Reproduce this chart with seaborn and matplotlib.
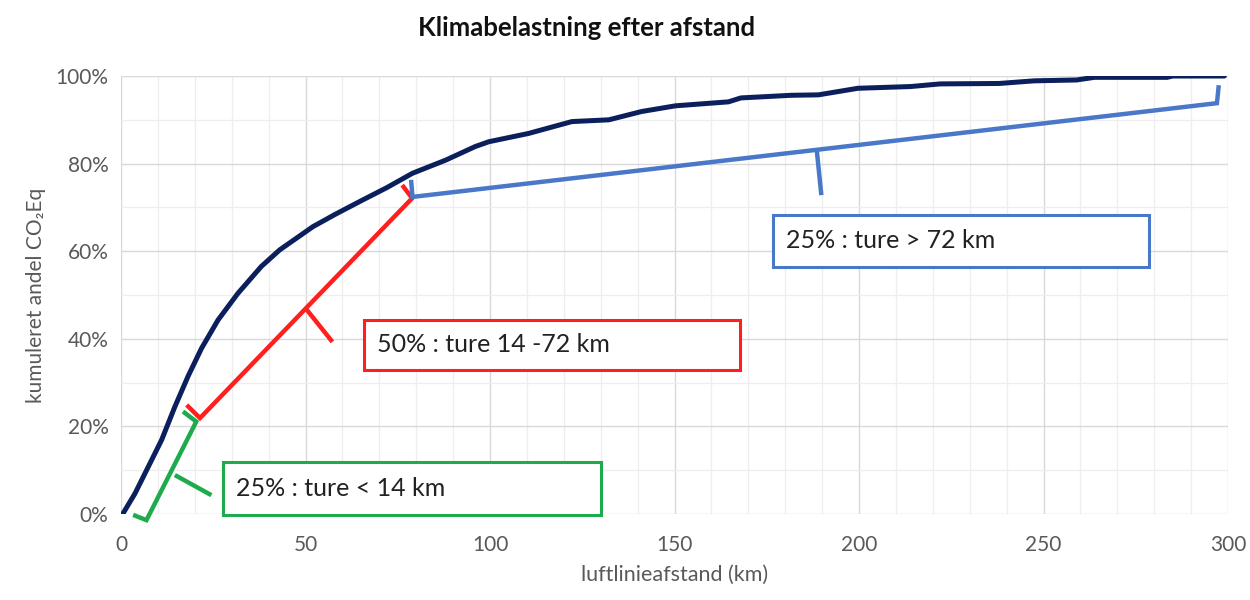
import numpy as np
import pandas as pd
import matplotlib
matplotlib.use("Agg")
import matplotlib.pyplot as plt
from matplotlib.patches import Rectangle
from matplotlib.ticker import MultipleLocator, PercentFormatter
import seaborn as sns

# cumulative share of CO2Eq against straight-line distance
km = [0.6, 3.8, 7.4, 11.0, 14.6, 18.2, 21.8, 26.3, 31.7, 38, 43, 52, 58, 65.5,
      72, 79, 88, 96, 99.7, 110.5, 122.2, 132.2, 141.1, 150.3, 164.6, 168,
      181.6, 189, 199.7, 214, 222, 238, 247.5, 259, 263.8, 283.5, 285, 299]
share = [0.002, 0.047, 0.108, 0.169, 0.245, 0.315, 0.378, 0.443, 0.504, 0.565,
         0.603, 0.656, 0.684, 0.717, 0.745, 0.778, 0.808, 0.839, 0.85, 0.869,
         0.896, 0.90, 0.919, 0.932, 0.941, 0.95, 0.956, 0.957, 0.972, 0.976,
         0.982, 0.983, 0.989, 0.991, 0.997, 0.997, 1.0, 1.0]

# bracket annotations: (x list, y list) for the bracket, then the small tick
green_bracket = ([3.3, 6.9, 20.4, 16.8], [-0.002, -0.014, 0.211, 0.234])
green_tick = ([14.6, 24.5], [0.089, 0.043])
red_bracket = ([17.8, 21.4, 78.9, 76.2], [0.249, 0.219, 0.721, 0.751])
red_tick = ([50, 57.3], [0.47, 0.393])
blue_bracket = ([78.6, 79.0, 297, 297.5], [0.763, 0.724, 0.938, 0.979])
blue_tick = ([188.5, 189.8], [0.835, 0.728])

# text boxes: (x0, x1, y0, y1)
green_box = (27.6, 130.2, -0.002, 0.119)
red_box = (65.9, 167.8, 0.329, 0.443)
blue_box = (176.8, 278.6, 0.565, 0.683)
green_text = "25% : ture < 14 km"
red_text = "50% : ture 14 -72 km"
blue_text = "25% : ture > 72 km"

GREEN = "#1eab4e"
RED = "#ff1f1f"
BLUE = "#4a78c8"
NAVY = "#0b1f5c"
GRAY = "#595959"

sns.set_theme(style="white")
plt.rcParams["font.family"] = ["Lato", "DejaVu Sans"]

fig = plt.figure(figsize=(12.5, 6), dpi=100)
ax = fig.add_axes([0.0968, 0.1433, 0.8856, 0.73])

df = pd.DataFrame({"km": km, "share": share})
sns.lineplot(data=df, x="km", y="share", ax=ax, color=NAVY, linewidth=3.6,
             zorder=5)

ax.set_xlim(0, 300)
ax.set_ylim(0, 1)
ax.xaxis.set_major_locator(MultipleLocator(50))
ax.xaxis.set_minor_locator(MultipleLocator(10))
ax.yaxis.set_major_locator(MultipleLocator(0.2))
ax.yaxis.set_minor_locator(MultipleLocator(0.1))
ax.yaxis.set_major_formatter(PercentFormatter(1.0, decimals=0))
ax.grid(which="major", color="#d9d9d9", linewidth=1.0)
ax.grid(which="minor", color="#eeeeee", linewidth=0.9)
ax.set_axisbelow(True)
for s in ax.spines.values():
    s.set_visible(False)
ax.tick_params(which="both", length=0)
ax.tick_params(axis="x", pad=15, labelsize=15, labelcolor=GRAY)
ax.tick_params(axis="y", pad=9, labelsize=15, labelcolor=GRAY)

ax.set_xlabel("luftlinieafstand (km)", fontsize=15.5, color=GRAY, labelpad=7)
ax.set_ylabel("kumuleret andel CO₂Eq", fontsize=15, color=GRAY, labelpad=7)

fig.text(587 / 1250, 1 - 28 / 600, "Klimabelastning efter afstand",
         ha="center", va="center", fontsize=18.5, fontweight="bold", color="#111111")

for (bx, by), (tx, ty), col in [
    (green_bracket, green_tick, GREEN),
    (red_bracket, red_tick, RED),
    (blue_bracket, blue_tick, BLUE),
]:
    ax.plot(bx, by, color=col, linewidth=3.2, clip_on=False, zorder=6,
            solid_joinstyle="miter", solid_capstyle="butt")
    ax.plot(tx, ty, color=col, linewidth=3.2, clip_on=False, zorder=6,
            solid_capstyle="butt")

for (x0, x1, y0, y1), txt, col in [
    (green_box, green_text, GREEN),
    (red_box, red_text, RED),
    (blue_box, blue_text, BLUE),
]:
    ax.add_patch(Rectangle((x0, y0), x1 - x0, y1 - y0, facecolor="white",
                           edgecolor=col, linewidth=2.2, clip_on=False, zorder=7))
    ax.text(x0 + 3.5, (y0 + y1) / 2, txt, ha="left", va="center",
            fontsize=18, color="#222222", zorder=8)

fig.savefig("out.png", dpi=100)
